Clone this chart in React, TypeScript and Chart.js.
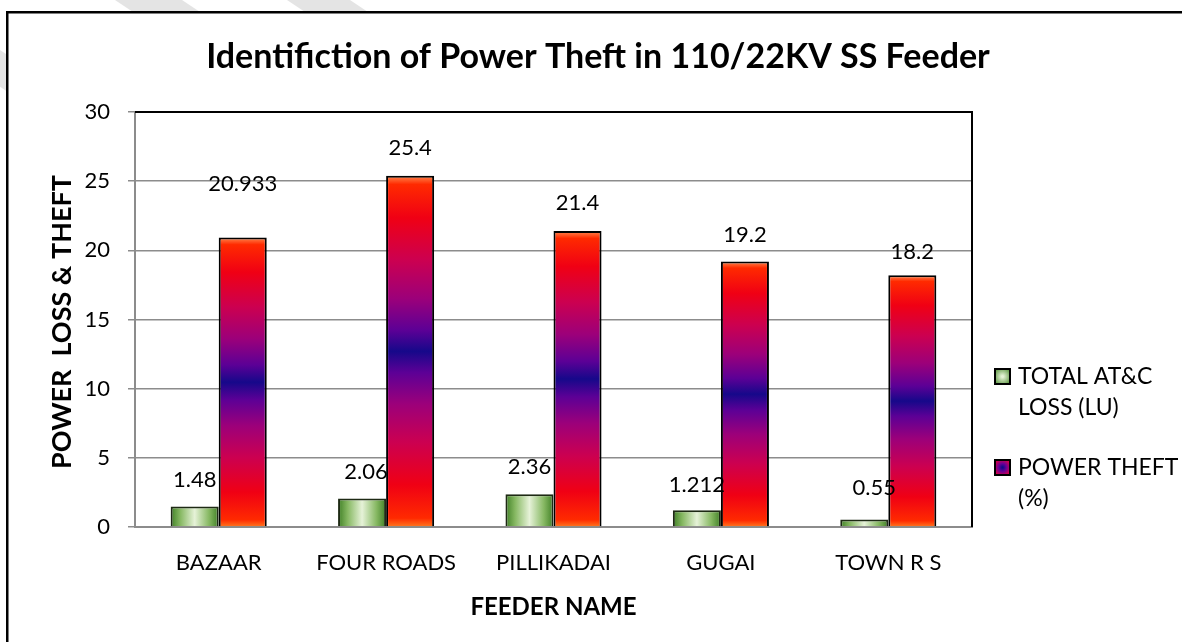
import React, { useEffect, useRef } from 'react';
import { Chart, registerables } from 'chart.js';

Chart.register(...registerables);

// ---------- data ----------
const FEEDERS = ['BAZAAR', 'FOUR ROADS', 'PILLIKADAI', 'GUGAI', 'TOWN R S'];
const ATC_LOSS = [1.48, 2.06, 2.36, 1.212, 0.55];
const POWER_THEFT = [20.933, 25.4, 21.4, 19.2, 18.2];
const ATC_LABELS = ['1.48', '2.06', '2.36', '1.212', '0.55'];
const THEFT_LABELS = ['20.933', '25.4', '21.4', '19.2', '18.2'];
const Y_MIN = 0;
const Y_MAX = 30;
const Y_STEP = 5;
const SERIES_NAMES = [
  ['TOTAL AT&C', 'LOSS (LU)'],
  ['POWER THEFT', '(%)'],
];
const TITLE = 'Identifiction of Power Theft in 110/22KV SS Feeder';
const Y_TITLE = 'POWER  LOSS & THEFT';
const X_TITLE = 'FEEDER NAME';

// ---------- style config ----------
const W = 1182;
const H = 642;
const FONT = 'Lato, "DejaVu Sans", sans-serif';
const CAT_PCT = 0.574;
const ATC_LIFT = [27, 27, 27, 25, 31];
const THEFT_LIFT = [54, 28, 28, 26, 23];
const ATC_SHIFT = [0, 4, 0, 0, 10];
const STRIPES: [number, number][] = [
  [-130, -75],
  [115, 182],
  [287, 350],
];

function barRect(chart: any, dsIndex: number, index: number, value: number) {
  const xs = chart.scales.x;
  const ys = chart.scales.y;
  const cx = xs.getPixelForValue(index);
  const catW = (xs.right - xs.left) / FEEDERS.length;
  const w = (catW * CAT_PCT) / 2;
  const x0 = dsIndex === 0 ? cx - w : cx;
  return { x0, x1: x0 + w, top: ys.getPixelForValue(value), bottom: ys.getPixelForValue(0) };
}

function greenFill(ctx: any) {
  const chart = ctx.chart;
  if (ctx.type !== 'data' || !chart.chartArea || !chart.scales.x) return '#8fbf6a';
  const r = barRect(chart, 0, ctx.dataIndex, ctx.raw);
  const g = chart.ctx.createLinearGradient(r.x0, 0, r.x1, 0);
  g.addColorStop(0, '#3f7f25');
  g.addColorStop(0.2, '#86b862');
  g.addColorStop(0.5, '#e6f2d8');
  g.addColorStop(0.8, '#86b862');
  g.addColorStop(1, '#3f7f25');
  return g;
}

function redFill(ctx: any) {
  const chart = ctx.chart;
  if (ctx.type !== 'data' || !chart.chartArea || !chart.scales.x) return '#a0007a';
  const r = barRect(chart, 1, ctx.dataIndex, ctx.raw);
  const g = chart.ctx.createLinearGradient(0, r.top, 0, r.bottom);
  g.addColorStop(0, '#ff8a50');
  g.addColorStop(0.025, '#ff2a00');
  g.addColorStop(0.12, '#f00014');
  g.addColorStop(0.24, '#cc0050');
  g.addColorStop(0.35, '#9c007a');
  g.addColorStop(0.44, '#5c0096');
  g.addColorStop(0.5, '#16088a');
  g.addColorStop(0.56, '#5c0096');
  g.addColorStop(0.65, '#9c007a');
  g.addColorStop(0.76, '#cc0050');
  g.addColorStop(0.88, '#f00014');
  g.addColorStop(0.975, '#ff2a00');
  g.addColorStop(1, '#ff7a20');
  return g;
}

const decorPlugin = {
  id: 'decor',
  beforeDraw(chart: any) {
    const c = chart.ctx;
    c.save();
    c.fillStyle = '#ffffff';
    c.fillRect(0, 0, W, H);
    c.fillStyle = '#e4e4e4';
    for (const [a, b] of STRIPES) {
      c.beginPath();
      c.moveTo(a, 0);
      c.lineTo(b, 0);
      c.lineTo(b + 1.5 * H, H);
      c.lineTo(a + 1.5 * H, H);
      c.closePath();
      c.fill();
    }
    c.fillStyle = '#ffffff';
    c.fillRect(7, 12, W, H);
    c.fillStyle = '#000000';
    c.fillRect(6, 11, 2.5, H);
    c.fillRect(6, 11, W, 2.5);
    c.restore();
  },
  afterDatasetsDraw(chart: any) {
    const c = chart.ctx;
    c.save();
    c.fillStyle = '#000';
    c.font = `22px ${FONT}`;
    c.textAlign = 'center';
    c.textBaseline = 'middle';
    const m0 = chart.getDatasetMeta(0);
    const m1 = chart.getDatasetMeta(1);
    m0.data.forEach((el: any, i: number) => {
      c.fillText(ATC_LABELS[i], el.x + ATC_SHIFT[i], el.y - ATC_LIFT[i]);
    });
    m1.data.forEach((el: any, i: number) => {
      c.fillText(THEFT_LABELS[i], el.x, el.y - THEFT_LIFT[i]);
    });
    c.restore();
  },
  afterDraw(chart: any) {
    const c = chart.ctx;
    const a = chart.chartArea;
    c.save();
    // plot border top & right
    c.strokeStyle = '#000';
    c.lineWidth = 2;
    c.beginPath();
    c.moveTo(a.left, a.top);
    c.lineTo(a.right, a.top);
    c.lineTo(a.right, a.bottom);
    c.stroke();

    c.fillStyle = '#000';
    // title
    c.font = `bold 34px ${FONT}`;
    c.textAlign = 'center';
    c.textBaseline = 'middle';
    c.fillText(TITLE, 598, 57);
    // x title
    c.font = `bold 24px ${FONT}`;
    c.fillText(X_TITLE, (a.left + a.right) / 2, 607);
    // y title
    c.save();
    c.font = `bold 27px ${FONT}`;
    c.translate(62, 322);
    c.rotate(-Math.PI / 2);
    c.fillText(Y_TITLE, 0, 0);
    c.restore();

    // legend
    const items = [
      { y: 369, lines: SERIES_NAMES[0], kind: 0 },
      { y: 460, lines: SERIES_NAMES[1], kind: 1 },
    ];
    c.textAlign = 'left';
    c.textBaseline = 'alphabetic';
    c.font = `23px ${FONT}`;
    for (const it of items) {
      const bx = 995;
      const by = it.y;
      const s = 15;
      let g: any;
      if (it.kind === 0) {
        g = c.createRadialGradient(bx + s / 2, by + s / 2, 1, bx + s / 2, by + s / 2, s * 0.7);
        g.addColorStop(0, '#e4f1d4');
        g.addColorStop(1, '#4a8a2e');
      } else {
        g = c.createRadialGradient(bx + s / 2, by + s / 2, 0.5, bx + s / 2, by + s / 2, s * 0.7);
        g.addColorStop(0, '#10088a');
        g.addColorStop(0.35, '#6a0096');
        g.addColorStop(0.7, '#c0005a');
        g.addColorStop(1, '#f00020');
      }
      c.fillStyle = g;
      c.fillRect(bx, by, s, s);
      c.strokeStyle = '#000';
      c.lineWidth = 2;
      c.strokeRect(bx, by, s, s);
      c.fillStyle = '#000';
      c.fillText(it.lines[0], 1018, by + 15);
      c.fillText(it.lines[1], 1018, by + 46);
    }
    c.restore();
  },
};

export default function App() {
  const ref = useRef<HTMLCanvasElement>(null);
  useEffect(() => {
    document.body.style.margin = '0';
    const canvas = ref.current!;
    const chart = new Chart(canvas, {
      type: 'bar',
      data: {
        labels: FEEDERS,
        datasets: [
          {
            label: SERIES_NAMES[0].join(' '),
            data: ATC_LOSS,
            backgroundColor: greenFill as any,
            borderColor: '#1e2a14',
            borderWidth: 2,
            categoryPercentage: CAT_PCT,
            barPercentage: 1,
          },
          {
            label: SERIES_NAMES[1].join(' '),
            data: POWER_THEFT,
            backgroundColor: redFill as any,
            borderColor: '#000',
            borderWidth: 2,
            categoryPercentage: CAT_PCT,
            barPercentage: 1,
          },
        ],
      },
      options: {
        responsive: false,
        animation: false,
        devicePixelRatio: 1,
        layout: { padding: { left: 8, top: 112, right: W - 972, bottom: 0 } },
        plugins: {
          legend: { display: false },
          title: { display: false },
          tooltip: { enabled: false },
        },
        scales: {
          x: {
            offset: true,
            grid: { display: false, drawTicks: false },
            border: { display: true, color: '#8c8c8c', width: 2 },
            ticks: {
              color: '#000',
              font: { family: FONT, size: 22 },
              padding: 23,
              maxRotation: 0,
              autoSkip: false,
            },
            afterFit: (s: any) => {
              s.height = H - 527;
            },
          },
          y: {
            min: Y_MIN,
            max: Y_MAX,
            ticks: {
              stepSize: Y_STEP,
              color: '#000',
              font: { family: FONT, size: 22 },
              padding: 18,
            },
            grid: { color: '#8c8c8c', lineWidth: 1.5, tickLength: 7 },
            border: { display: true, color: '#8c8c8c', width: 2 },
            afterFit: (s: any) => {
              s.width = 127;
            },
          },
        },
      },
      plugins: [decorPlugin],
    });
    return () => chart.destroy();
  }, []);
  return (
    <div style={{ width: W, height: H }}>
      <canvas ref={ref} width={W} height={H} style={{ display: 'block' }} />
    </div>
  );
}
